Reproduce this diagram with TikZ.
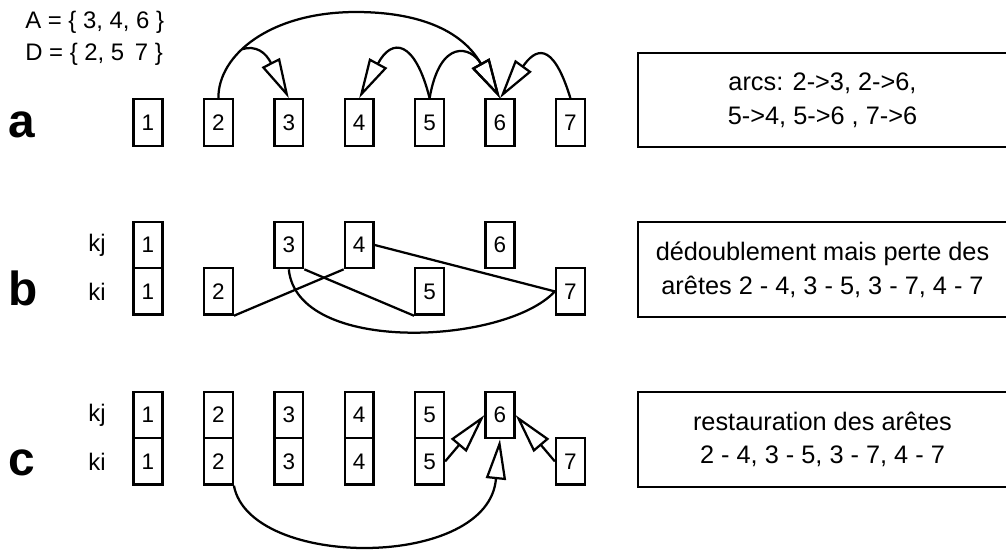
\documentclass[tikz,border=0pt]{standalone}
\usepackage{fontspec}
\setmainfont{Liberation Sans}
\usetikzlibrary{positioning,calc,arrows.meta}

\begin{document}
\begin{tikzpicture}[x=0.025cm,y=0.025cm,>={Triangle[open,length=1cm,width=0.5cm]}]

		\tikzset{
			cell/.style={draw=black, line width=1.6pt, minimum width=0.72cm,
				minimum height=1.16cm, inner sep=0pt, font=\fontsize{16}{16}\selectfont},
			note/.style={draw=black, line width=1.6pt, minimum width=9.22cm,
				minimum height=2.36cm, align=center, font=\fontsize{18}{24}\selectfont},
			panel/.style={font=\fontsize{34}{34}\selectfont\bfseries},
			rowlab/.style={font=\fontsize{17}{17}\selectfont},
			setlab/.style={anchor=west, inner sep=0pt, font=\fontsize{17}{17}\selectfont},
			link/.style={line width=1.6pt}
		}

		\useasboundingbox (0,0) rectangle (1006,-549);

		% ===== ENSEMBLES A ET D =====
		\node[setlab] (setA) at (25,-22) {A = \{ 3, 4, 6 \}};
		\node[setlab] (setD) at (25,-54) {D = \{ 2, 5~\,7 \}};

		% ===== LIGNE a =====
		\node[panel] (pa) at (22,-125) {a};
		\foreach \i in {1,...,7}
		\node[cell] (a\i) at ({148+70.4*(\i-1)},-122.5) {\i};

		% ===== LIGNE b =====
		\node[panel] (pb) at (23,-288) {b};
		\node[rowlab] (kjb) at (97,-245) {kj};
		\node[rowlab] (kib) at (97,-291.5) {ki};
		\foreach \i in {1,3,4,6}
		\node[cell] (bj\i) at ({148+70.4*(\i-1)},-245) {\i};
		\foreach \i in {1,2,5,7}
		\node[cell] (bi\i) at ({148+70.4*(\i-1)},-291.4) {\i};

		% ===== LIGNE c =====
		\node[panel] (pc) at (22,-463) {c};
		\node[rowlab] (kjc) at (97,-415) {kj};
		\node[rowlab] (kic) at (97,-461.5) {ki};
		\foreach \i in {1,...,6}
		\node[cell] (cj\i) at ({148+70.4*(\i-1)},-415) {\i};
		\foreach \i in {1,2,3,4,5,7}
		\node[cell] (ci\i) at ({148+70.4*(\i-1)},-461.4) {\i};

		% ===== BOITES DE TEXTE (DROITE) =====
		\node[note] (na) at (822.5,-100) {arcs: 2->3, 2->6,\\5->4, 5->6 , 7->6};
		\node[note] (nb) at (822.5,-269.5) {dédoublement mais perte des\\arêtes 2 - 4, 3 - 5, 3 - 7, 4 - 7};
		\node[note] (nc) at (822.5,-439.5) {restauration des arêtes\\2 - 4, 3 - 5, 3 - 7, 4 - 7};

		% ===== ARCS a =====
		\coordinate (t3) at (271.1,-63.2);
		\coordinate (t4) at (377.9,-63.7);
		\coordinate (t6l) at (481,-64);
		\coordinate (t6r) at (523,-66.3);

		\draw[link,->] (a2.north) .. controls (218,-55) and (270,-12) .. (356,-12) coordinate[pos=0.4] (br)
		.. controls (416,-12) and (461.6,-29) .. (t6l) -- (a6.north);
		\draw[link,->] (br) .. controls (256,-45) and (265.8,-52.4) .. (t3) -- (a3.north);
		\draw[link,->] (a5.north) .. controls (415,-40) and (391.9,-37.2) .. (t4) -- (a4.north);
		\draw[link,->] (a5.north) .. controls (440,-38) and (471,-46) .. (t6l) -- (a6.north);
		\draw[link,->] (a7.north) .. controls (552,-38) and (534.5,-50) .. (t6r) -- (a6.north);

		% ===== ARETES PERDUES b =====
		\draw[link] (bi2.south east) -- (bj4.south west);
		\draw[link] (bj3.south east) -- (bi5.south west);
		\draw[link] (bj4.east) -- (bi7.west);
		\draw[link] (bj3.south) .. controls (297,-355) and (505,-345) .. (bi7.west);

		% ===== ARCS RESTAURES c =====
		\coordinate (tc6) at (496,-478);
		\draw[link,->] (ci5.east) -- (cj6.west);
		\draw[link,->] (ci7.west) -- (cj6.east);
		\draw[link,->] (ci2.south east) .. controls (250,-570) and (490,-570) .. (tc6) -- (cj6.south);

	\end{tikzpicture}
\end{document}
